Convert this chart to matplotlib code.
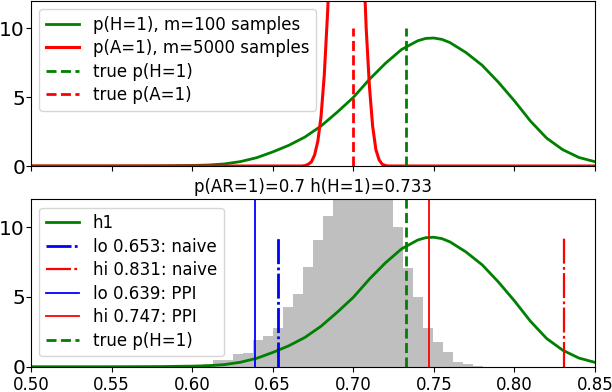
import matplotlib
matplotlib.use("Agg")
import matplotlib.pyplot as plt
import numpy as np

plt.rcParams['lines.scale_dashes'] = False

# ---- data ----
h_x = [0.50, 0.55, 0.58, 0.60, 0.61, 0.62, 0.63, 0.64, 0.65, 0.66, 0.67, 0.68,
       0.69, 0.70, 0.71, 0.72, 0.73, 0.74, 0.745, 0.75, 0.755, 0.76, 0.77, 0.78,
       0.79, 0.80, 0.81, 0.82, 0.83, 0.84, 0.85]
h_y = [0.0, 0.0, 0.01, 0.04, 0.07, 0.15, 0.32, 0.60, 1.02, 1.50, 2.10, 2.90,
       3.90, 4.97, 6.28, 7.45, 8.45, 9.08, 9.25, 9.28, 9.18, 8.95, 8.22, 7.30,
       6.08, 4.72, 3.25, 2.02, 1.18, 0.62, 0.31]

a_x = [0.50, 0.668, 0.670, 0.672, 0.674, 0.676, 0.678, 0.680, 0.682, 0.684, 0.686,
       0.688, 0.690, 0.692, 0.694, 0.696, 0.698, 0.700, 0.702, 0.704, 0.706,
       0.708, 0.710, 0.712, 0.714, 0.716, 0.718, 0.720, 0.722, 0.85]
a_y = [0.0, 0.0, 0.03, 0.12, 0.30, 0.8, 1.8, 3.6, 6.6, 11.0, 16.0,
       23.0, 30.0, 36.0, 40.0, 41.0, 40.0, 36.0, 30.0, 23.0, 16.0,
       10.0, 5.8, 2.9, 1.2, 0.45, 0.12, 0.03, 0.0, 0.0]

hist_edges = [0.6007, 0.6069, 0.6131, 0.6193, 0.6255, 0.6317, 0.6379, 0.6441,
              0.6503, 0.6565, 0.6627, 0.6689, 0.6751, 0.6813, 0.6875, 0.6937,
              0.6999, 0.7061, 0.7123, 0.7185, 0.7247, 0.7309, 0.7371, 0.7433,
              0.7495, 0.7557, 0.7619, 0.7681, 0.7743, 0.7805]
hist_heights = [0.1, 0.2, 0.45, 0.5, 0.9, 0.95, 1.9, 2.2, 2.76, 4.3, 5.23,
                7.12, 9.07, 10.8, 12.8, 14.5, 15.5, 15.5, 14.5, 13.0, 10.05,
                7.05, 5.0, 2.81, 1.8, 1.05, 0.36, 0.17, 0.07]

true_h = 0.733
true_a = 0.7
lo_naive, hi_naive = 0.653, 0.831
lo_ppi, hi_ppi = 0.639, 0.747
x_ticks = [0.50, 0.55, 0.60, 0.65, 0.70, 0.75, 0.80, 0.85]
y_ticks = [0, 5, 10]

# ---- figure ----
W, H = 612, 392
fig = plt.figure(figsize=(W / 100, H / 100), dpi=100)

def px_axes(l, t, r, b):
    return fig.add_axes([l / W, 1 - b / H, (r - l) / W, (b - t) / H])

ax1 = px_axes(31, 0.5, 595, 166)
ax2 = px_axes(31, 199.3, 595, 366.7)

fs_xtick = 12
fs_ytick = 14.5
fs_text = 12
dash = (0, (7.2, 3.2))
dashdot = (0, (18, 2.4, 2, 2.4))
leg_kw = dict(loc='upper left', fontsize=fs_text, labelspacing=0.33,
              borderaxespad=0.5)

ax1.plot(h_x, h_y, color='green', lw=2, label='p(H=1), m=100 samples')
ax1.plot(a_x, a_y, color='red', lw=2.2, label='p(A=1), m=5000 samples')
ax1.vlines(true_h, 0, 10, colors='green', lw=2, linestyles=[dash],
           label='true p(H=1)')
ax1.vlines(true_a, 0, 10, colors='red', lw=2, linestyles=[dash],
           label='true p(A=1)')
ax1.set_xlim(0.5, 0.85)
ax1.set_ylim(0, 12)
ax1.set_xticks(x_ticks)
ax1.set_xticklabels([])
ax1.set_yticks(y_ticks)
ax1.tick_params(axis='x', labelsize=fs_xtick)
ax1.tick_params(axis='y', labelsize=fs_ytick, pad=0.8)
ax1.legend(**leg_kw)

ax2.bar(hist_edges[:-1], hist_heights, width=np.diff(hist_edges), align='edge',
        color='gray', alpha=0.5, lw=0)
peak = max(h_y)
ax2.plot(h_x, h_y, color='green', lw=2, label='h1')
ax2.vlines(lo_naive, 0, peak, colors='blue', lw=2,
           linestyles=[dashdot], label=f'lo {lo_naive:.3f}: naive')
ax2.vlines(hi_naive, 0, peak, colors='red', lw=1.6,
           linestyles=[dashdot], label=f'hi {hi_naive:.3f}: naive')
ax2.axvline(lo_ppi, color='blue', lw=1.3, label=f'lo {lo_ppi:.3f}: PPI')
ax2.axvline(hi_ppi, color='red', lw=1.3, label=f'hi {hi_ppi:.3f}: PPI')
ax2.axvline(true_h, color='green', lw=2, linestyle=dash, label='true p(H=1)')
ax2.set_xlim(0.5, 0.85)
ax2.set_ylim(0, 12)
ax2.set_xticks(x_ticks)
ax2.set_xticklabels([f'{t:.2f}' for t in x_ticks])
ax2.set_yticks(y_ticks)
ax2.tick_params(axis='x', labelsize=fs_xtick)
ax2.tick_params(axis='y', labelsize=fs_ytick, pad=0.8)
ax2.set_title(f'p(AR=1)={true_a} h(H=1)={true_h}', fontsize=fs_text, pad=5)
ax2.legend(**leg_kw)

fig.savefig('out.png', dpi=100)
